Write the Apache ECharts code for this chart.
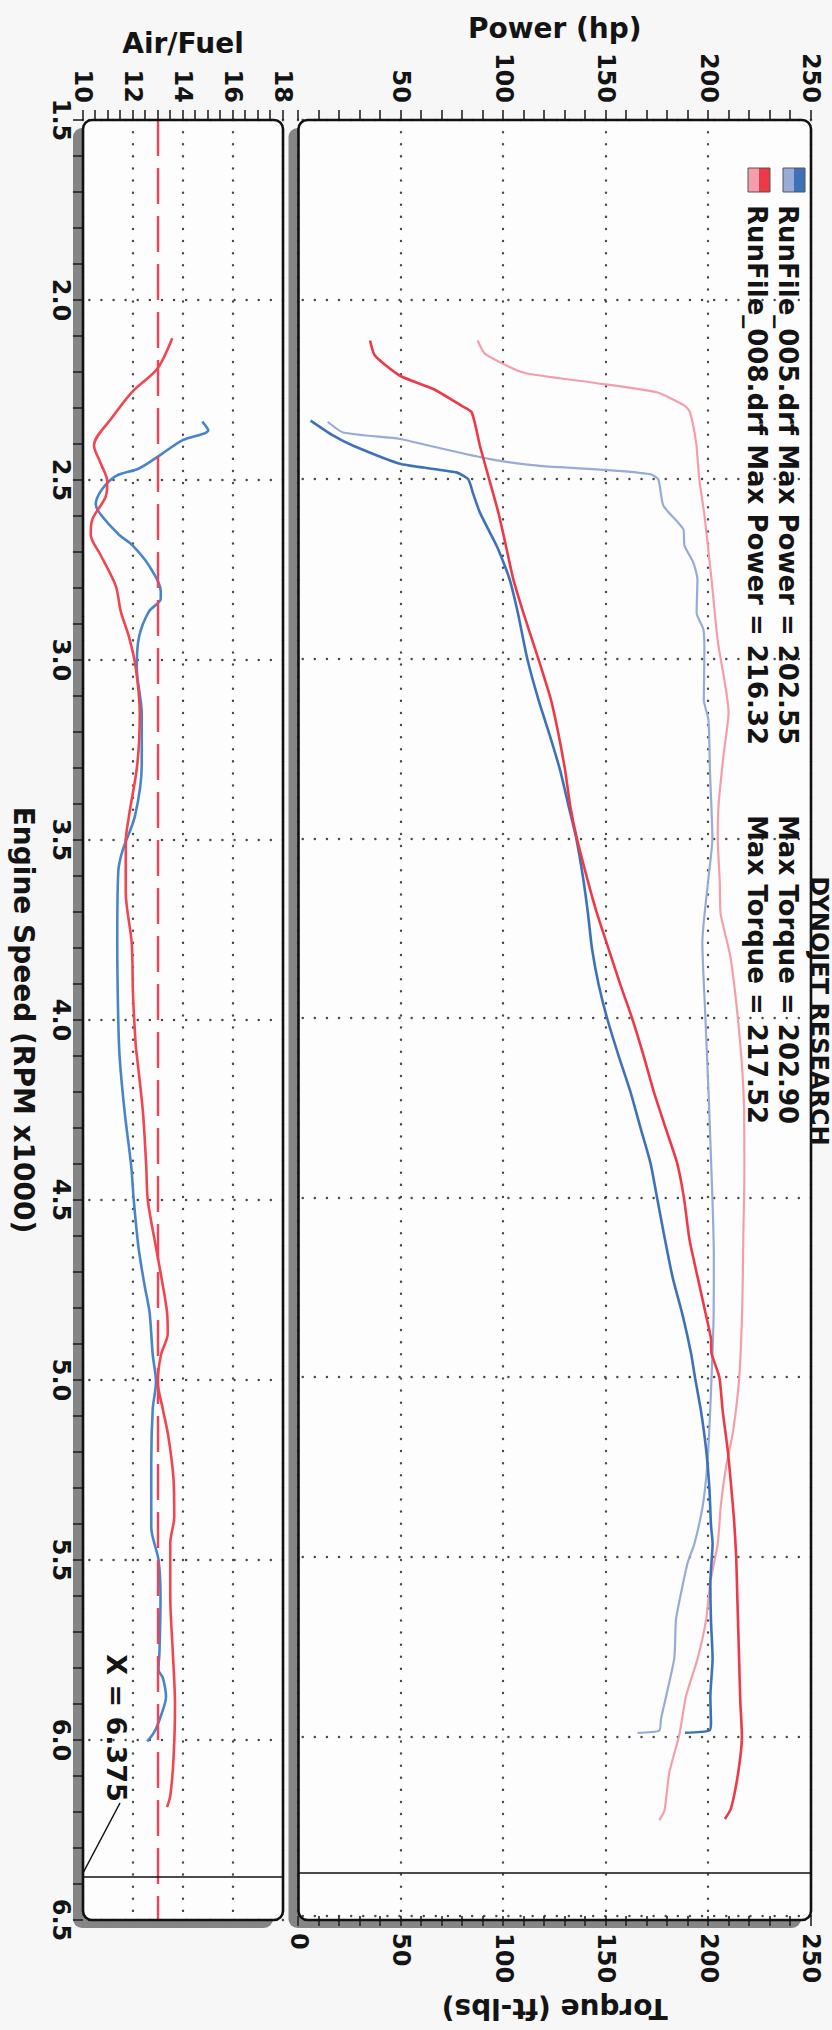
<!DOCTYPE html>
<html>
<head>
<meta charset="utf-8">
<script src="https://cdn.jsdelivr.net/npm/echarts@6/dist/echarts.min.js"></script>
<style>
html,body{margin:0;padding:0;background:#f7f7f7;}
#wrap{position:absolute;left:0;top:0;width:832px;height:2030px;overflow:hidden;background:#f7f7f7;}
#chart{position:absolute;left:0;top:0;width:2030px;height:832px;transform-origin:0 0;transform:translate(832px,0) rotate(90deg);}
</style>
</head>
<body>
<div id="wrap"><div id="chart"></div></div>
<script>
// ---- data (RPM x1000 vs value) ----
const rpmPow005 = [2.337,2.379,2.407,2.458,2.481,2.5,2.537,2.593,2.686,2.732,2.779,2.872,3.0,3.113,3.212,3.312,3.411,3.5,3.609,3.709,3.808,3.907,4.0,4.106,4.205,4.305,4.404,4.5,4.6,4.722,4.828,4.934,5.0,5.093,5.199,5.305,5.411,5.464,5.57,5.677,5.783,5.889,5.963,5.984,5.99];
const hp005     = [5.9,17,26.7,50,77,82.8,85,88.5,96.7,100,103,107,111.6,117,122.5,127.7,131.8,135.5,138.8,141.2,143.2,146.4,150.5,156.2,161.9,166.8,171.7,174.9,178.2,182.5,187.4,191.5,193.4,196.3,198.8,200.4,201.2,202.0,200.9,201.2,202.0,200.9,201.2,200.4,188.5];

const rpmTq005 = [2.34,2.37,2.388,2.407,2.444,2.463,2.474,2.486,2.5,2.574,2.639,2.685,2.732,2.779,2.872,2.918,2.977,3.113,3.171,3.312,3.5,3.609,3.79,4.0,4.205,4.5,4.661,4.828,5.0,5.146,5.252,5.358,5.464,5.517,5.623,5.677,5.783,5.889,5.952,5.984,5.99];
const tq005     = [14.2,21.9,49.5,64,93.4,117.8,150,171.5,175.5,178,187.7,188.3,192.6,194.6,194.2,197.5,198,197.7,200,200.7,201.9,200,197,198.5,200,201.9,202.6,202.5,201.5,200.4,199.3,197.2,193.1,189.8,185.8,184.1,183.3,179.3,176.8,176,165.4];

const rpmPow008 = [2.114,2.156,2.212,2.249,2.296,2.314,2.407,2.5,2.593,2.686,2.779,2.872,3.0,3.113,3.212,3.312,3.411,3.5,3.609,3.709,3.808,3.907,4.0,4.106,4.205,4.305,4.404,4.5,4.616,4.722,4.828,4.892,4.934,5.0,5.093,5.199,5.3,5.4,5.5,5.6,5.7,5.8,5.9,6.0,6.1,6.2,6.23];
const hp008     = [34.9,37.3,49.5,65.8,79.6,84.5,88.5,93,97.5,101.2,104.8,109.7,117,123.1,126.9,130.1,132.6,135.8,140.7,145.6,151.3,157,162.7,168.4,173.3,179,184.7,188,190.7,194.7,198.8,201.2,201.5,205.3,206.9,209.3,211,212.5,213.5,214,214.5,215,215.5,216.3,214.5,211,208];

const rpmTq008 = [2.114,2.151,2.203,2.23,2.258,2.296,2.314,2.4,2.5,2.6,2.78,2.95,3.15,3.26,3.4,3.5,3.62,3.709,3.83,4.047,4.241,4.44,4.6,4.8,5.0,5.15,5.252,5.358,5.464,5.57,5.677,5.783,5.889,5.995,6.1,6.207,6.233];
const tq008     = [87.4,91,109.7,142,174.7,188.5,191,194,195.5,198,201.5,204.5,209.8,207.5,205,204.5,205.5,205.9,210.7,215.1,217.3,217.5,217,216.5,215,212,208.5,206,204.5,200.9,198.8,194.7,189,185.8,180.9,178.5,176];

const rpmAfr005 = [2.338,2.362,2.39,2.433,2.468,2.489,2.525,2.567,2.596,2.652,2.681,2.738,2.809,2.83,2.865,2.936,3.021,3.149,3.291,3.433,3.532,3.589,3.787,4.0,4.108,4.258,4.407,4.5,4.632,4.736,4.811,4.93,5.005,5.08,5.229,5.409,5.5,5.603,5.753,5.805,5.827,5.88,5.932,5.977,6.004];
const afr005    = [14.77,15.01,13.97,13.04,12.24,11.31,10.77,10.51,10.71,11.44,11.97,12.64,13.11,13.11,12.64,12.24,12.15,12.35,12.35,12.08,11.57,11.41,11.37,11.41,11.47,11.67,11.93,12.03,12.22,12.46,12.66,12.79,12.92,12.79,12.73,12.73,13.02,13.1,13.06,13.02,13.19,13.32,13.12,12.86,12.57];

const rpmAfr008 = [2.106,2.191,2.255,2.326,2.404,2.454,2.504,2.546,2.61,2.652,2.709,2.794,2.865,2.936,3.021,3.149,3.291,3.433,3.504,3.645,3.787,3.929,4.071,4.108,4.258,4.407,4.5,4.632,4.736,4.811,4.871,4.93,5.005,5.08,5.155,5.274,5.379,5.454,5.603,5.753,5.902,6.052,6.156,6.186];
const afr008    = [13.57,12.97,11.97,11.17,10.44,10.71,10.97,10.91,10.37,10.31,10.71,11.31,11.51,11.84,12.11,12.27,12.17,11.84,11.71,11.71,11.95,12.0,12.11,12.17,12.4,12.53,12.59,12.92,13.19,13.36,13.39,13.12,12.99,13.19,13.41,13.62,13.65,13.49,13.49,13.59,13.68,13.62,13.49,13.36];

const afrTarget = 13.0;
const cursorRpm = 6.375;
const runNames = ['RunFile_005.drf', 'RunFile_008.drf'];
const maxPower = ['202.55', '216.32'];
const maxTorque = ['202.90', '217.52'];
const titleText = 'DYNOJET RESEARCH';

// ---- chart ----
const FF = '"DejaVu Sans", Verdana, sans-serif';
const C = {
  blueDark:'#3d72b8', blueLight:'#98abd7', redDark:'#ec3a48', redLight:'#f59eab',
  afBlue:'#4a84c8', afRed:'#ef4650', dot:'#4a4a4a', ink:'#141414'
};
function zip(xs, ys){ return xs.map((x,i)=>[x, ys[i]]); }

const G0 = {left:120, top:21, width:1800, height:512.5};
const G1 = {left:120, top:549, width:1800, height:200};

const dotted = {show:true, lineStyle:{color:C.dot, width:2.4, type:[0.1,12], cap:'round'}};
const tickStyle = {color:'#222', width:1.6};
const labelStyle = {fontSize:24, fontWeight:'bold', color:C.ink, fontFamily:FF};
const nameStyle = {fontSize:28, fontWeight:'bold', color:C.ink, fontFamily:FF};

function frame(g){
  return [
    {type:'rect', z:-6, shape:{x:g.left+8, y:g.top+10, width:g.width, height:g.height, r:9}, style:{fill:'#858585'}},
    {type:'rect', z:-5, shape:{x:g.left, y:g.top, width:g.width, height:g.height, r:9}, style:{fill:'#fdfdfd'}},
    {type:'rect', z:100, shape:{x:g.left, y:g.top, width:g.width, height:g.height, r:9}, style:{fill:'none', stroke:'#111', lineWidth:2.6}}
  ];
}
function legendSwatch(y, dark, light){
  return [
    {type:'rect', z:101, shape:{x:168, y:y, width:24, height:11}, style:{fill:dark}},
    {type:'rect', z:101, shape:{x:168, y:y+11, width:24, height:11}, style:{fill:light}},
    {type:'rect', z:102, shape:{x:168, y:y, width:24, height:22}, style:{fill:'none', stroke:'#555', lineWidth:1}}
  ];
}
const legendFont = 'bold 26px ' + FF;
const graphics = [].concat(
  frame(G0), frame(G1),
  legendSwatch(27, C.blueDark, C.blueLight),
  legendSwatch(62, C.redDark, C.redLight),
  [
    {type:'text', z:101, x:205, y:44, style:{text: runNames[0] + ' Max Power = ' + maxPower[0], font:legendFont, fill:C.ink, verticalAlign:'middle'}},
    {type:'text', z:101, x:815, y:44, style:{text: 'Max Torque = ' + maxTorque[0], font:legendFont, fill:C.ink, verticalAlign:'middle'}},
    {type:'text', z:101, x:205, y:75, style:{text: runNames[1] + ' Max Power = ' + maxPower[1], font:legendFont, fill:C.ink, verticalAlign:'middle'}},
    {type:'text', z:101, x:815, y:75, style:{text: 'Max Torque = ' + maxTorque[1], font:legendFont, fill:C.ink, verticalAlign:'middle'}},
    {type:'text', z:101, x:1011, y:1, style:{text: titleText, font:'bold 24px ' + FF, fill:C.ink, align:'center', verticalAlign:'top'}},
    {type:'text', z:101, x:1728, y:716, style:{text: 'X = ' + cursorRpm, font:'bold 27px ' + FF, fill:C.ink, align:'center', verticalAlign:'middle'}},
    {type:'line', z:101, shape:{x1:1803, y1:712, x2:1873, y2:749}, style:{stroke:'#111', lineWidth:1.5}}
  ]
);

const option = {
  animation:false,
  backgroundColor:'#f7f7f7',
  grid:[
    Object.assign({containLabel:false}, G0),
    Object.assign({containLabel:false}, G1)
  ],
  xAxis:[
    {type:'value', gridIndex:0, min:1.5, max:6.5, interval:0.5,
     axisLine:{show:false}, axisTick:{show:false}, axisLabel:{show:false},
     splitLine:dotted},
    {type:'value', gridIndex:1, min:1.5, max:6.5, interval:0.5,
     axisLine:{show:false},
     axisTick:{show:true, inside:false, length:10, lineStyle:tickStyle},
     minorTick:{show:true, splitNumber:5, length:10, lineStyle:tickStyle},
     axisLabel:Object.assign({margin:10, formatter:v=>v.toFixed(1)}, labelStyle),
     splitLine:dotted,
     name:'Engine Speed (RPM x1000)', nameLocation:'middle', nameGap:46, nameTextStyle:nameStyle}
  ],
  yAxis:[
    {type:'value', gridIndex:0, position:'left', min:0, max:250, interval:50,
     axisLine:{show:false},
     axisTick:{show:true, inside:false, length:10, lineStyle:tickStyle},
     minorTick:{show:true, splitNumber:5, length:10, lineStyle:tickStyle},
     axisLabel:Object.assign({margin:17, formatter:v=>v===0?'':String(v)}, labelStyle),
     splitLine:dotted,
     name:'Power (hp)', nameLocation:'middle', nameRotate:90, nameGap:63, nameTextStyle:nameStyle},
    {type:'value', gridIndex:0, position:'right', min:0, max:250, interval:50,
     axisLine:{show:false},
     axisTick:{show:true, inside:false, length:10, lineStyle:tickStyle},
     minorTick:{show:true, splitNumber:5, length:10, lineStyle:tickStyle},
     axisLabel:Object.assign({margin:17}, labelStyle),
     splitLine:{show:false},
     name:'Torque (ft-lbs)', nameLocation:'middle', nameRotate:-90, nameGap:63, nameTextStyle:nameStyle},
    {type:'value', gridIndex:1, position:'left', min:10, max:18, interval:2,
     axisLine:{show:false},
     axisTick:{show:true, inside:false, length:10, lineStyle:tickStyle},
     minorTick:{show:true, splitNumber:4, length:10, lineStyle:tickStyle},
     axisLabel:Object.assign({margin:17}, labelStyle),
     splitLine:dotted,
     name:'Air/Fuel', nameLocation:'middle', nameRotate:90, nameGap:63, nameTextStyle:nameStyle}
  ],
  graphic:{elements:graphics},
  series:[
    {name:runNames[0]+' Torque', type:'line', xAxisIndex:0, yAxisIndex:1, data:zip(rpmTq005, tq005),
     showSymbol:false, smooth:0.2, lineStyle:{color:C.blueLight, width:2.2}, itemStyle:{color:C.blueLight}},
    {name:runNames[1]+' Torque', type:'line', xAxisIndex:0, yAxisIndex:1, data:zip(rpmTq008, tq008),
     showSymbol:false, smooth:0.2, lineStyle:{color:C.redLight, width:2.2}, itemStyle:{color:C.redLight}},
    {name:runNames[0]+' Power', type:'line', xAxisIndex:0, yAxisIndex:0, data:zip(rpmPow005, hp005),
     showSymbol:false, smooth:0.2, lineStyle:{color:C.blueDark, width:2.6}, itemStyle:{color:C.blueDark}},
    {name:runNames[1]+' Power', type:'line', xAxisIndex:0, yAxisIndex:0, data:zip(rpmPow008, hp008),
     showSymbol:false, smooth:0.2, lineStyle:{color:C.redDark, width:2.6}, itemStyle:{color:C.redDark},
     markLine:{silent:true, symbol:'none', label:{show:false}, animation:false,
       data:[{xAxis:cursorRpm, lineStyle:{color:'#111', width:1.6, type:'solid'}}]}},
    {name:runNames[0]+' AFR', type:'line', xAxisIndex:1, yAxisIndex:2, data:zip(rpmAfr005, afr005),
     showSymbol:false, smooth:0.3, lineStyle:{color:C.afBlue, width:2.6}, itemStyle:{color:C.afBlue}},
    {name:runNames[1]+' AFR', type:'line', xAxisIndex:1, yAxisIndex:2, data:zip(rpmAfr008, afr008),
     showSymbol:false, smooth:0.3, lineStyle:{color:C.afRed, width:2.6}, itemStyle:{color:C.afRed},
     markLine:{silent:true, symbol:'none', label:{show:false}, animation:false,
       data:[
         {yAxis:afrTarget, lineStyle:{color:'#ef4455', width:2.4, type:[36,12]}},
         {xAxis:cursorRpm, lineStyle:{color:'#111', width:1.6, type:'solid'}}
       ]}}
  ]
};
const chart = echarts.init(document.getElementById('chart'), null, {renderer:'svg', width:2030, height:832});
chart.setOption(option);
</script>
</body>
</html>
